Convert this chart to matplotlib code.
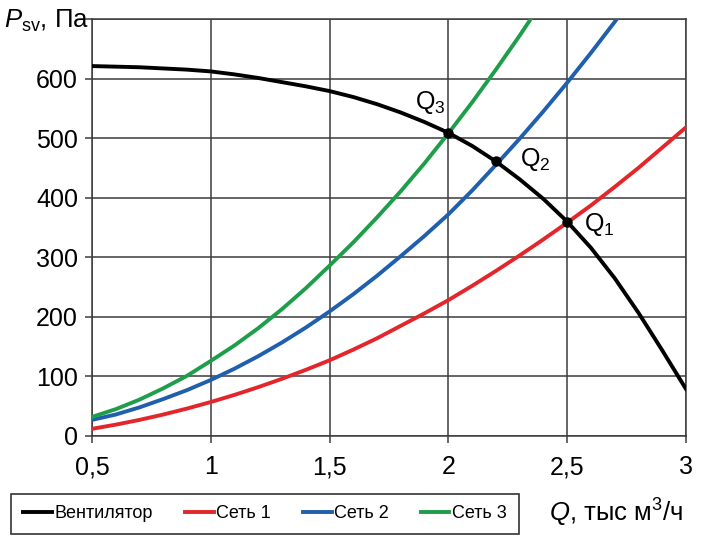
import matplotlib

matplotlib.use("Agg")
import matplotlib.pyplot as plt

# flow rate, thousand m3/h (read every 0.1)
Q = [0.5, 0.6, 0.7, 0.8, 0.9, 1.0, 1.1, 1.2, 1.3, 1.4, 1.5, 1.6, 1.7,
     1.8, 1.9, 2.0, 2.1, 2.2, 2.3, 2.4, 2.5, 2.6, 2.7, 2.8, 2.9, 3.0]

# static pressure, Pa
fan = [621, 620, 619, 617, 615, 612, 607, 601, 594, 587, 579, 569, 557,
       543, 527, 509, 487, 461, 431, 398, 360, 316, 265, 207, 144, 79]
net1 = [12, 19, 27, 36, 46, 57, 69, 82, 96, 111, 127, 145, 164,
        185, 206, 228, 252, 277, 303, 330, 358, 387, 418, 450, 484, 518]
net2 = [27, 36, 48, 62, 77, 94, 113, 134, 157, 182, 209, 238, 269,
        302, 336, 372, 412, 455, 499, 545, 593, 643, 695, 748]
net3 = [32, 45, 61, 80, 101, 126, 152, 181, 213, 248, 286, 325, 367,
        411, 458, 508, 560, 615, 672, 732]

# operating points
op_q = [2.5, 2.2, 2.0]
op_p = [360, 461, 509]
op_labels = ["Q$_1$", "Q$_2$", "Q$_3$"]

legend_names = ["Вентилятор", "Сеть 1", "Сеть 2", "Сеть 3"]
colors = ["black", "#e3262b", "#1f5fad", "#1e9e4a"]

plt.rcParams["font.family"] = ["Liberation Sans", "DejaVu Sans"]
plt.rcParams["mathtext.fontset"] = "custom"
plt.rcParams["mathtext.rm"] = "Liberation Sans"
plt.rcParams["mathtext.it"] = "Liberation Sans:italic"

grid_c = "#3c3c3c"

fig = plt.figure(figsize=(7.13, 5.46), dpi=100)
ax = fig.add_axes([0.129, 0.2015, 0.833, 0.7637])

lines = []
for vals, c, name in zip([fan, net1, net2, net3], colors, legend_names):
    (ln,) = ax.plot(Q[:len(vals)], vals, color=c, lw=2.8, label=name, zorder=3)
    lines.append(ln)

ax.plot(op_q, op_p, "o", color="black", ms=6.5, zorder=4)
ax.text(2.57, 378, op_labels[0], fontsize=18, ha="left", va="top")
ax.text(2.30, 486, op_labels[1], fontsize=18, ha="left", va="top")
ax.text(1.86, 538, op_labels[2], fontsize=18, ha="left", va="bottom")

ax.set_xlim(0.5, 3.0)
ax.set_ylim(0, 700)
ax.set_xticks([0.5, 1, 1.5, 2, 2.5, 3])
ax.set_xticklabels(["0,5", "1", "1,5", "2", "2,5", "3"])
ax.set_yticks(range(0, 701, 100))
ax.set_yticklabels([str(v) for v in range(0, 601, 100)] + [""])
ax.grid(True, color=grid_c, lw=1.1)
ax.set_axisbelow(True)
ax.tick_params(direction="out", length=5, width=1.1, color=grid_c,
               labelsize=18, pad=5)
ax.tick_params(axis="x", pad=9)
for s in ax.spines.values():
    s.set_color(grid_c)
    s.set_linewidth(1.1)

fig.text(0.006, 0.962, "$\\mathit{P}_{\\mathregular{sv}}$, Па", fontsize=18.5,
         ha="left", va="center")
fig.text(0.958, 0.060, "$\\mathit{Q}$, тыс м$^{\\mathregular{3}}$/ч", fontsize=18.5,
         ha="right", va="center")

leg = fig.legend(handles=lines, loc="center left", bbox_to_anchor=(0.016, 0.059),
                 ncol=4, frameon=True, fancybox=False, edgecolor="black",
                 handlelength=1.6, handletextpad=0.15, columnspacing=1.75,
                 borderpad=0.65, borderaxespad=0, fontsize=13)
leg.get_frame().set_linewidth(1.2)

fig.savefig("out.png", dpi=100)
